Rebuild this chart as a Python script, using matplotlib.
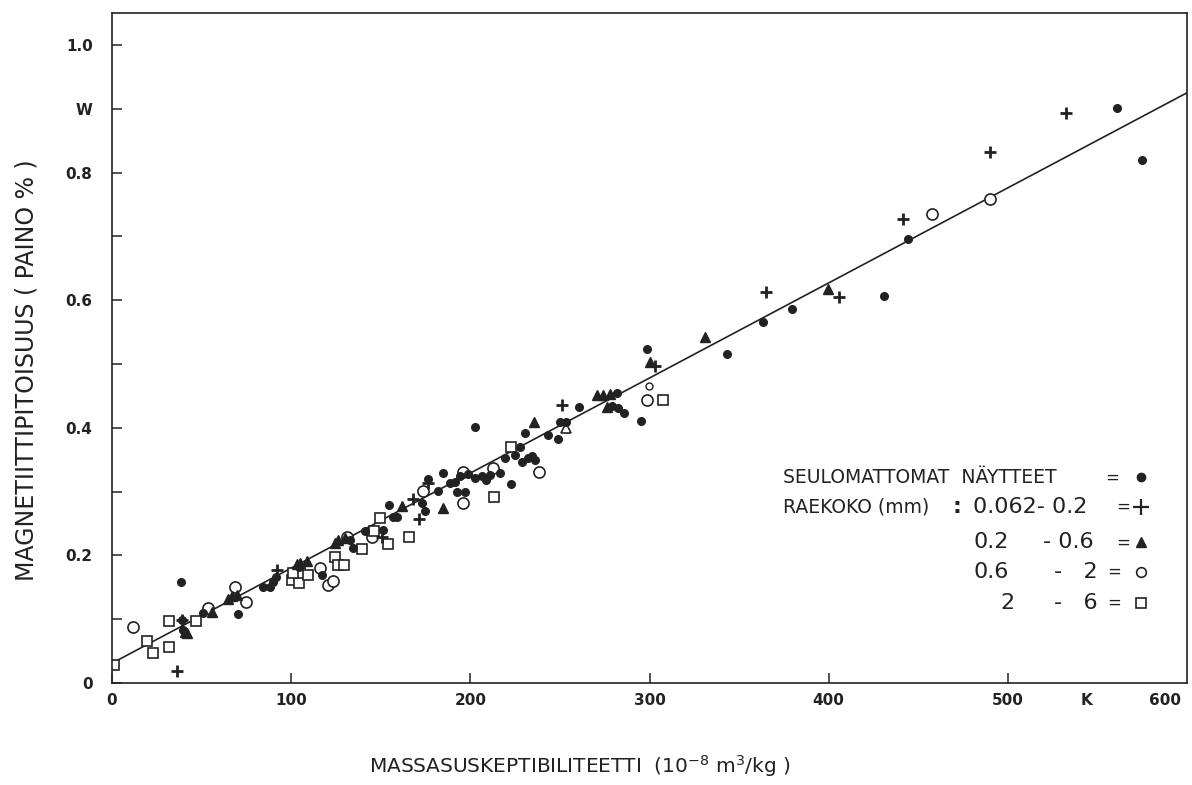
import matplotlib
matplotlib.use("Agg")
import matplotlib.pyplot as plt
import numpy as np

# unsieved samples (filled circles)
unsieved_x = [561.1, 575.0, 444.5, 431.1, 363.1, 379.3, 343.0, 298.4, 295.0, 260.5,
              281.7, 278.9, 282.2, 285.6, 249.9, 253.2, 230.3, 243.2, 248.7, 222.5,
              227.6, 219.2, 224.8, 232.0, 235.9, 228.7, 234.2, 216.4, 202.5, 194.1,
              198.5, 202.5, 206.4, 210.8, 208.6, 192.4, 196.9, 188.5, 191.3, 184.6,
              181.8, 176.2, 172.9, 174.6, 154.5, 156.7, 159.0, 151.1, 141.1, 134.4,
              117.1, 104.3, 91.5, 89.8, 88.1, 84.2, 70.3, 50.8, 38.5, 39.0,
              39.6, 132.7]
unsieved_y = [0.901, 0.820, 0.696, 0.607, 0.566, 0.586, 0.516, 0.524, 0.411, 0.433,
              0.455, 0.434, 0.431, 0.423, 0.409, 0.409, 0.392, 0.389, 0.382, 0.312,
              0.370, 0.353, 0.357, 0.353, 0.350, 0.346, 0.356, 0.329, 0.401, 0.324,
              0.328, 0.321, 0.324, 0.326, 0.318, 0.299, 0.299, 0.313, 0.315, 0.329,
              0.301, 0.320, 0.282, 0.270, 0.279, 0.260, 0.260, 0.240, 0.238, 0.212,
              0.169, 0.182, 0.166, 0.158, 0.150, 0.150, 0.108, 0.110, 0.158, 0.099,
              0.083, 0.224]

# grain size 0.062 - 0.2 mm (plus)
g1_x = [532.6, 490.2, 441.7, 364.8, 405.5, 302.8, 251.0, 176.2, 167.9, 171.2,
        150.6, 92.0, 39.0, 36.3]
g1_y = [0.893, 0.832, 0.727, 0.613, 0.605, 0.497, 0.436, 0.313, 0.288, 0.257,
        0.229, 0.177, 0.099, 0.019]

# grain size 0.2 - 0.6 mm (filled triangles)
g2_x = [399.9, 330.7, 300.1, 270.5, 273.8, 277.7, 276.1, 235.4, 184.6, 161.7,
        124.4, 126.0, 130.0, 103.2, 104.9, 108.8, 64.7, 66.9, 69.7, 55.8,
        40.7, 41.8]
g2_y = [0.618, 0.542, 0.503, 0.451, 0.451, 0.453, 0.433, 0.409, 0.274, 0.277,
        0.219, 0.224, 0.227, 0.187, 0.188, 0.191, 0.132, 0.136, 0.138, 0.111,
        0.080, 0.078]

# grain size 0.6 - 2 mm (open circles)
g3_x = [490.2, 457.9, 298.4, 238.1, 212.5, 195.8, 195.8, 173.5, 145.0, 131.1,
        116.0, 120.5, 123.3, 74.7, 68.6, 53.5, 11.7]
g3_y = [0.759, 0.735, 0.444, 0.331, 0.337, 0.331, 0.282, 0.301, 0.229, 0.229,
        0.180, 0.154, 0.160, 0.127, 0.150, 0.118, 0.088]
g3_small_x = [299.5]
g3_small_y = [0.466]

# grain size 2 - 6 mm (open squares)
g4_x = [307.3, 222.5, 213.1, 165.6, 153.9, 149.5, 146.1, 139.4, 124.4, 126.0,
        129.4, 100.4, 104.3, 100.9, 109.3, 46.8, 31.8, 31.8, 19.5, 22.9, 1.1]
g4_y = [0.444, 0.370, 0.292, 0.229, 0.218, 0.259, 0.238, 0.210, 0.197, 0.185,
        0.185, 0.161, 0.157, 0.172, 0.169, 0.097, 0.097, 0.056, 0.066, 0.047, 0.028]

# odd open triangle
open_tri_x = [253.2]
open_tri_y = [0.400]

# regression line
line_x = [0, 600]
intercept = 0.031
slope = 0.00149

ink = "#222222"

fig = plt.figure(figsize=(11.92, 7.85), dpi=100)
ax = fig.add_axes([0.094, 0.130, 0.9018, 0.8534])

lx = np.array(line_x)
ax.plot(lx, intercept + slope * lx, color=ink, lw=1.2, zorder=1)

ax.plot(unsieved_x, unsieved_y, 'o', ms=5.5, color=ink, mec=ink, zorder=3)
ax.plot(g1_x, g1_y, '+', ms=8, mew=2, color=ink, zorder=3)
ax.plot(g2_x, g2_y, '^', ms=7, color=ink, mec=ink, zorder=3)
ax.plot(g3_x, g3_y, 'o', ms=8, mfc='white', mec=ink, mew=1.2, zorder=2)
ax.plot(g3_small_x, g3_small_y, 'o', ms=5, mfc='white', mec=ink, mew=1.0, zorder=2)
ax.plot(g4_x, g4_y, 's', ms=6.5, mfc='white', mec=ink, mew=1.2, zorder=2)
ax.plot(open_tri_x, open_tri_y, '^', ms=7, mfc='white', mec=ink, mew=1.2, zorder=2)

ax.set_xlim(0, 600)
ax.set_ylim(0, 1.05)

xt = [0, 100, 200, 300, 400, 500, 544, 588]
ax.set_xticks(xt)
ax.set_xticklabels(['0', '100', '200', '300', '400', '500', 'K', '600'],
                   fontweight='bold', fontsize=11, color=ink)
for t in ax.xaxis.get_major_ticks()[6:]:
    t.tick1line.set_visible(False)
yt = [0, 0.1, 0.2, 0.3, 0.4, 0.5, 0.6, 0.7, 0.8, 0.9, 1.0]
ax.set_yticks(yt)
ax.set_yticklabels(['0', '', '0.2', '', '0.4', '', '0.6', '', '0.8', 'W', '1.0'],
                   fontweight='bold', fontsize=11, color=ink)
ax.tick_params(axis='both', direction='in', length=7, width=1.1, color=ink)
ax.tick_params(axis='x', pad=7)
ax.tick_params(axis='y', pad=14)
for s in ax.spines.values():
    s.set_linewidth(1.2)
    s.set_color(ink)

ax.set_xlabel(r'MASSASUSKEPTIBILITEETTI  (10$^{-8}$ m$^{3}$/kg )', fontsize=14.5,
              color=ink)
ax.xaxis.set_label_coords(0.435, -0.105)
ax.set_ylabel('MAGNETIITTIPITOISUUS ( PAINO % )', fontsize=17, color=ink)
ax.yaxis.set_label_coords(-0.068, 0.467)

# legend drawn as text block
tf = ax.transAxes
rows_y = [0.307, 0.263, 0.210, 0.166, 0.119]
ax.text(0.624, rows_y[0], 'SEULOMATTOMAT  NÄYTTEET', transform=tf, fontsize=13.5,
        va='center', color=ink)
ax.text(0.624, rows_y[1], 'RAEKOKO (mm)', transform=tf, fontsize=13.5, va='center',
        color=ink)
ax.text(0.782, rows_y[1], ':', transform=tf, fontsize=16, va='center', fontweight='bold',
        color=ink)
ax.text(0.801, rows_y[1], '0.062- 0.2', transform=tf, fontsize=16, va='center', color=ink)
ax.text(0.801, rows_y[2], '0.2', transform=tf, fontsize=16, va='center', color=ink)
ax.text(0.866, rows_y[2], '- 0.6', transform=tf, fontsize=16, va='center', color=ink)
ax.text(0.801, rows_y[3], '0.6', transform=tf, fontsize=16, va='center', color=ink)
ax.text(0.876, rows_y[3], '-   2', transform=tf, fontsize=16, va='center', color=ink)
ax.text(0.826, rows_y[4], '2', transform=tf, fontsize=16, va='center', color=ink)
ax.text(0.876, rows_y[4], '-   6', transform=tf, fontsize=16, va='center', color=ink)
eq_x = [0.924, 0.934, 0.934, 0.926, 0.926]
for ex, ry in zip(eq_x, rows_y):
    ax.text(ex, ry, '=', transform=tf, fontsize=12, va='center', color=ink)
mk = 0.957
ax.plot([mk], [rows_y[0]], 'o', ms=6, color=ink, transform=tf, clip_on=False)
ax.plot([mk], [rows_y[1]], '+', ms=11, mew=1.6, color=ink, transform=tf, clip_on=False)
ax.plot([mk], [rows_y[2]], '^', ms=7, color=ink, transform=tf, clip_on=False)
ax.plot([mk], [rows_y[3]], 'o', ms=7, mfc='white', mec=ink, mew=1.2, transform=tf,
        clip_on=False)
ax.plot([mk], [rows_y[4]], 's', ms=6.5, mfc='white', mec=ink, mew=1.2, transform=tf,
        clip_on=False)

fig.savefig('out.png', dpi=100, facecolor='white')
